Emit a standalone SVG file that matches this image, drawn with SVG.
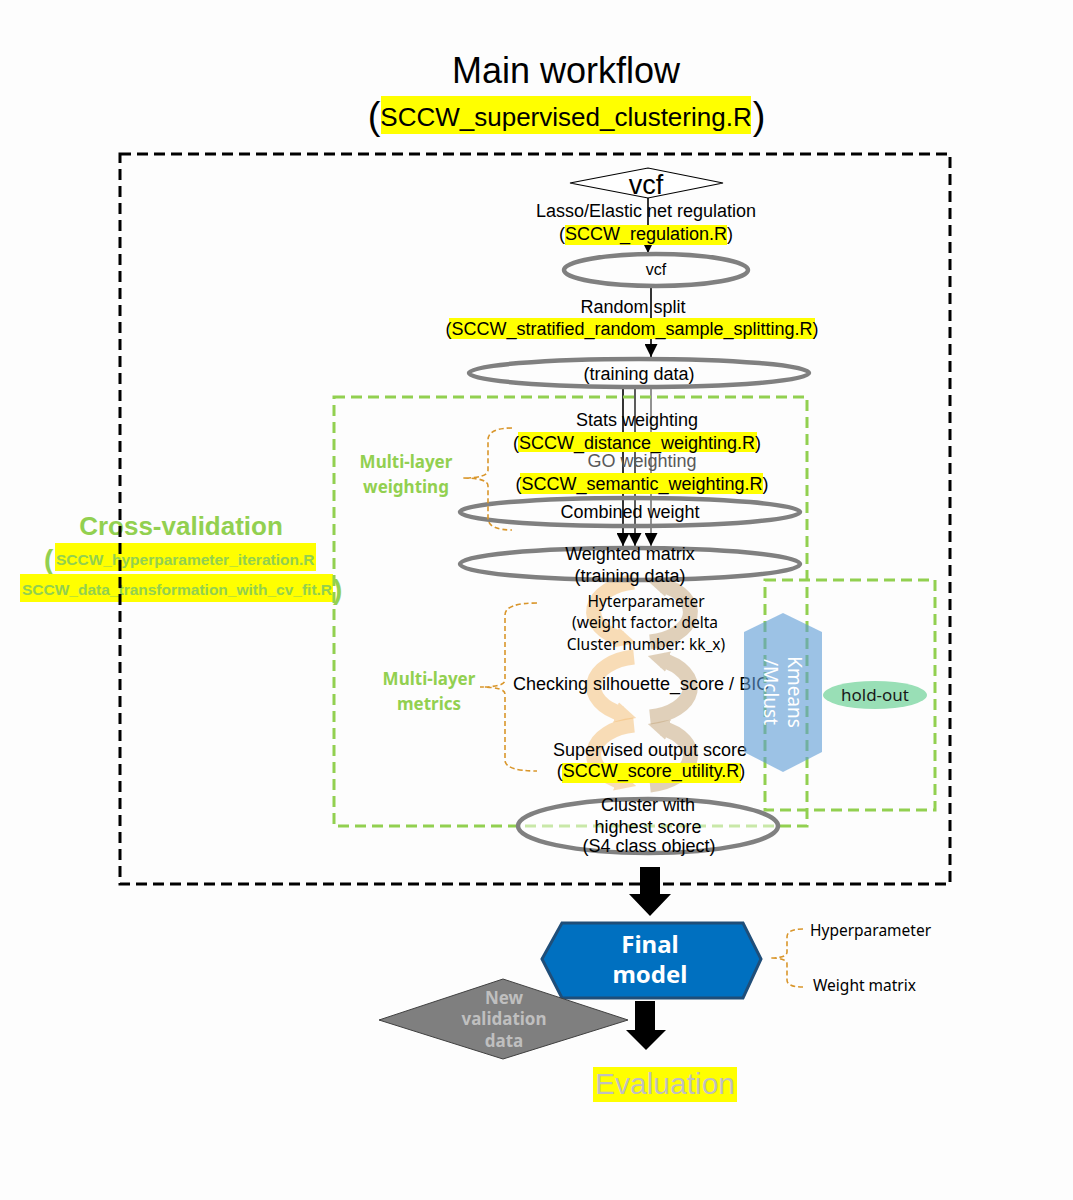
<svg xmlns="http://www.w3.org/2000/svg" width="1073" height="1200" viewBox="0 0 1073 1200">
<style>
.t{font-family:"Liberation Sans",Arial,sans-serif;font-size:18px;fill:#000;text-anchor:middle}
.n{font-family:"Noto Sans","Liberation Sans",sans-serif;font-size:15.5px;fill:#000;text-anchor:middle}
.hl{fill:#ffff00}
.ell{fill:none;stroke:#808080;stroke-width:4.5}
.gr{font-family:"Noto Sans","Liberation Sans",sans-serif;font-weight:bold;font-size:17px;fill:#92d050;text-anchor:middle}
.cv{font-family:"Liberation Sans",Arial,sans-serif;font-weight:bold;fill:#92d050}
.brace{fill:none;stroke:#d9962b;stroke-width:1.6;stroke-dasharray:5 3}
.gbox{fill:none;stroke:#92d050;stroke-width:3;stroke-dasharray:11 6}
.bbox{fill:none;stroke:#000;stroke-width:3;stroke-dasharray:11 6}
.cyA{fill:none;stroke:#f5bd72;stroke-width:15;opacity:.5}
.cyB{fill:none;stroke:#c4a57a;stroke-width:15;opacity:.5}
.conn{stroke:#000;stroke-width:1.6;fill:none}
</style>
<defs>
<marker id="ah" viewBox="0 0 10 10" refX="10" refY="5" markerUnits="userSpaceOnUse" markerWidth="14" markerHeight="13" orient="auto"><path d="M0,0 L10,5 L0,10 z" fill="#000"/></marker>
<marker id="cyAh" viewBox="0 0 10 10" refX="3" refY="5" markerUnits="strokeWidth" markerWidth="1.4" markerHeight="1.8" orient="auto"><path d="M0,0 L10,5 L0,10 z" fill="#f5bd72"/></marker>
<marker id="cyBh" viewBox="0 0 10 10" refX="3" refY="5" markerUnits="strokeWidth" markerWidth="1.4" markerHeight="1.8" orient="auto"><path d="M0,0 L10,5 L0,10 z" fill="#c4a57a"/></marker>
</defs>
<rect x="0" y="0" width="1073" height="1200" fill="#fdfdfd"/>

<g id="title">
<text class="t" x="566" y="83" style="font-size:36px">Main workflow</text>
<rect class="hl" x="381" y="96" width="370" height="38"/>
<text class="t" x="374" y="129" style="font-size:38px">(</text>
<text class="t" x="566" y="126" style="font-size:26px">SCCW_supervised_clustering.R</text>
<text class="t" x="759" y="129" style="font-size:38px">)</text>
</g>

<g id="cross-validation-label">
<text class="cv" x="181" y="535" style="font-size:26px;text-anchor:middle">Cross-validation</text>
<text class="cv" x="44" y="569" style="font-size:28px">(</text>
<rect class="hl" x="55" y="543" width="261" height="28"/>
<text class="cv" x="56" y="565" style="font-size:15.5px">SCCW_hyperparameter_iteration.R</text>
<rect class="hl" x="20" y="574" width="313" height="28"/>
<text class="cv" x="22" y="595" style="font-size:15.5px">SCCW_data_transformation_with_cv_fit.R</text>
<text class="cv" x="333" y="599" style="font-size:28px">)</text>
</g>

<g id="cycles">
<path class="cyA" d="M634,582 A48,30 0 0 0 622,639" marker-end="url(#cyAh)"/>
<path class="cyB" d="M650,642 A48,30 0 0 0 662,585" marker-end="url(#cyBh)"/>
<path class="cyA" d="M634,657 A48,30 0 0 0 622,714" marker-end="url(#cyAh)"/>
<path class="cyB" d="M650,717 A48,30 0 0 0 662,660" marker-end="url(#cyBh)"/>
<path class="cyA" d="M634,725 A48,30 0 0 0 622,782" marker-end="url(#cyAh)"/>
<path class="cyB" d="M650,785 A48,30 0 0 0 662,728" marker-end="url(#cyBh)"/>
</g>

<g id="connectors">
<line class="conn" x1="648" y1="198" x2="648" y2="253" marker-end="url(#ah)"/>
<line class="conn" x1="651" y1="287" x2="651" y2="357" marker-end="url(#ah)"/>
<line class="conn" x1="623" y1="389" x2="623" y2="546" marker-end="url(#ah)"/>
<line class="conn" x1="635" y1="389" x2="635" y2="546" style="stroke:#333" marker-end="url(#ah)"/>
<line class="conn" x1="651" y1="389" x2="651" y2="546" style="stroke:#777" marker-end="url(#ah)"/>
<polygon points="640,867 660,867 660,894 671,894 650,916 629,894 640,894" fill="#000"/>
<polygon points="635,1001 655,1001 655,1030 666,1030 646,1050 626,1030 635,1030" fill="#000"/>
</g>

<g id="vcf-input">
<polygon points="570,183 648,168 723,183 648,198" fill="#fff" stroke="#000" stroke-width="1.2"/>
<text class="t" x="646" y="194" style="font-size:27px">vcf</text>
</g>

<g id="regulation-label">
<text class="t" x="646" y="217">Lasso/Elastic net regulation</text>
<rect class="hl" x="565" y="225" width="162" height="20"/>
<text class="t" x="646" y="240">(SCCW_regulation.R)</text>
</g>

<g id="vcf-filtered">
<ellipse class="ell" cx="656" cy="270" rx="92" ry="16"/>
<text class="t" x="656" y="275" style="font-size:16px">vcf</text>
</g>

<g id="split-label">
<text class="t" x="633" y="313">Random split</text>
<rect class="hl" x="449" y="318" width="366" height="21"/>
<text class="t" x="632" y="335">(SCCW_stratified_random_sample_splitting.R)</text>
</g>

<g id="training-data">
<ellipse class="ell" cx="639" cy="373" rx="170" ry="14"/>
<text class="t" x="639" y="380">(training data)</text>
</g>

<g id="weighting-labels">
<text class="t" x="637" y="426">Stats weighting</text>
<rect class="hl" x="518" y="432" width="239" height="20"/>
<text class="t" x="637" y="449">(SCCW_distance_weighting.R)</text>
<text class="t" x="642" y="467" style="fill:#595959">GO weighting</text>
<rect class="hl" x="520" y="473" width="243" height="21"/>
<text class="t" x="642" y="490">(SCCW_semantic_weighting.R)</text>
</g>

<g id="combined-weight">
<ellipse class="ell" cx="630" cy="512" rx="170" ry="14"/>
<text class="t" x="630" y="518">Combined weight</text>
</g>

<g id="weighted-matrix">
<ellipse class="ell" cx="630" cy="564" rx="170" ry="16"/>
<text class="t" x="630" y="560">Weighted matrix</text>
<text class="t" x="630" y="582">(training data)</text>
</g>

<g id="multi-layer-weighting">
<path class="brace" d="M512,428 Q488,428 488,440 L488,470 Q488,478 463,478 Q488,478 488,486 L488,518 Q488,530 512,530"/>
<text class="gr" x="406" y="468">Multi-layer</text>
<text class="gr" x="406" y="493">weighting</text>
</g>

<g id="metrics-labels">
<text class="n" x="646" y="607">Hyterparameter</text>
<text class="n" x="645" y="628">(weight factor: delta</text>
<text class="n" x="646" y="650">Cluster number: kk_x)</text>
<text class="t" x="513" y="690" style="text-anchor:start">Checking silhouette_score / BIC</text>
<text class="t" x="650" y="756">Supervised output score</text>
<rect class="hl" x="562" y="763" width="179" height="20"/>
<text class="t" x="651" y="777">(SCCW_score_utility.R)</text>
</g>

<g id="multi-layer-metrics">
<path class="brace" d="M537,603 Q505,603 505,615 L505,680 Q505,687 480,687 Q505,687 505,694 L505,760 Q505,771 537,771"/>
<text class="gr" x="429" y="685">Multi-layer</text>
<text class="gr" x="429" y="710">metrics</text>
</g>

<g id="green-boxes">
<rect class="gbox" x="334" y="397" width="473" height="429"/>
<rect class="gbox" x="765" y="580" width="170" height="230"/>
</g>

<g id="kmeans-mclust">
<polygon points="783,613 822,632 822,752 783,772 744,752 744,632" fill="#5b9bd5" opacity="0.6"/>
<text class="n" transform="translate(788,692) rotate(90)" style="font-size:19px;fill:#fff">Kmeans</text>
<text class="n" transform="translate(764,692) rotate(90)" style="font-size:19px;fill:#fff">/Mclust</text>
</g>

<g id="hold-out">
<ellipse cx="875" cy="695" rx="52" ry="14" fill="#99dfb6"/>
<text class="n" x="875" y="701" style="font-size:17px;fill:#1a1a1a">hold-out</text>
</g>

<g id="best-cluster">
<ellipse cx="648" cy="826" rx="130" ry="27" fill="#fff" fill-opacity="0.5" stroke="#808080" stroke-width="4.5"/>
<text class="t" x="648" y="811">Cluster with</text>
<text class="t" x="648" y="833">highest score</text>
<text class="t" x="649" y="852">(S4 class object)</text>
</g>

<g id="main-box">
<rect class="bbox" x="120" y="154" width="830" height="730"/>
</g>

<g id="final-model">
<polygon points="542,959 562,923 743,923 761,959 743,998 562,998" fill="#0070c0" stroke="#1f4e79" stroke-width="3"/>
<text class="n" x="650" y="953" style="font-size:24px;font-weight:bold;fill:#fff">Final</text>
<text class="n" x="650" y="983" style="font-size:24px;font-weight:bold;fill:#fff">model</text>
</g>

<g id="final-model-contents">
<path class="brace" d="M803,929 Q787,929 787,937 L787,952 Q787,958 770,958 Q787,958 787,964 L787,980 Q787,987 803,987"/>
<text class="n" x="810" y="936" style="font-size:15.5px;text-anchor:start">Hyperparameter</text>
<text class="n" x="813" y="991" style="font-size:15.5px;text-anchor:start">Weight matrix</text>
</g>

<g id="new-validation-data">
<polygon points="379,1020 503,979 628,1020 503,1059" fill="#7f7f7f" stroke="#404040" stroke-width="1"/>
<text class="n" x="504" y="1004" style="font-size:17px;font-weight:bold;fill:#bfbfbf">New</text>
<text class="n" x="504" y="1025" style="font-size:17px;font-weight:bold;fill:#bfbfbf">validation</text>
<text class="n" x="504" y="1047" style="font-size:17px;font-weight:bold;fill:#bfbfbf">data</text>
</g>

<g id="evaluation">
<rect class="hl" x="593" y="1067" width="144" height="35"/>
<text class="t" x="665" y="1094" style="font-size:30px;fill:#bfbfbf">Evaluation</text>
</g>
</svg>
